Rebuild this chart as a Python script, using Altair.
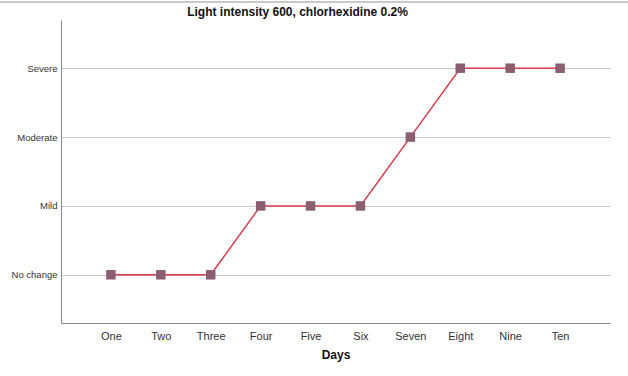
import altair as alt
import pandas as pd

days = ["One", "Two", "Three", "Four", "Five", "Six", "Seven", "Eight", "Nine", "Ten"]
levels = ["Severe", "Moderate", "Mild", "No change"]
severity = ["No change", "No change", "No change", "Mild", "Mild", "Mild",
            "Moderate", "Severe", "Severe", "Severe"]

df = pd.DataFrame({"day": days, "severity": severity})

FONT = "Liberation Sans"

x = alt.X("day:N", sort=days, title="Days",
          scale=alt.Scale(type="point", domain=days, padding=1.1),
          axis=alt.Axis(labelAngle=0, ticks=False, grid=False, labelPadding=7,
                        labelFontSize=11, labelColor="#333333", domainColor="#888888",
                        titleFontSize=12, titleFontWeight="bold", titleColor="#111111",
                        titlePadding=8, labelFont=FONT, titleFont=FONT))
y = alt.Y("severity:N", title=None,
          scale=alt.Scale(type="point", domain=levels, padding=0.7),
          axis=alt.Axis(ticks=False, grid=True, gridColor="#c8c8c8", labelPadding=4,
                        labelFontSize=9.5, labelColor="#333333", domainColor="#888888",
                        labelFont=FONT))

line = alt.Chart(df).mark_line(color="#d93c4c", strokeWidth=1.5).encode(x=x, y=y)
pts = alt.Chart(df).mark_square(size=90, color="#8a5d70", opacity=1).encode(x=x, y=y)

frame = alt.Chart(df).mark_rule(color="#c8c8c8", strokeWidth=1.5).encode(
    x=alt.value(-61), x2=alt.value(567), y=alt.value(-18))

chart = alt.layer(frame, line, pts).properties(
    width=549, height=303,
    padding={"left": 61, "top": 20, "right": 18, "bottom": 53},
    autosize="none",
    title=alt.TitleParams("Light intensity 600, chlorhexidine 0.2%", fontSize=12,
                          fontWeight="bold", font=FONT, color="#111111", dx=-38, offset=-18),
).configure_view(stroke=None)

chart.save("out.html", embed_options={"renderer": "svg", "actions": False})
